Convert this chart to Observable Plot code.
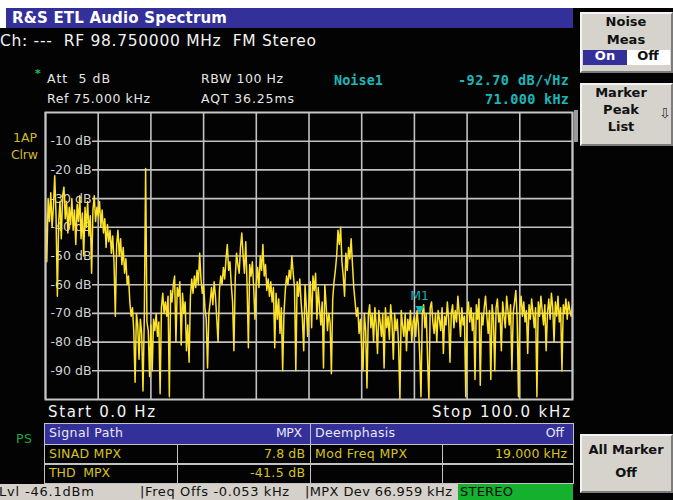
<!DOCTYPE html>
<html>
<head>
<meta charset="utf-8">
<script src="https://cdn.jsdelivr.net/npm/d3@7"></script>
<script src="https://cdn.jsdelivr.net/npm/@observablehq/plot@0.6"></script>
<style>
  html, body { margin: 0; padding: 0; background: #000; }
  #screen { position: relative; width: 673px; height: 500px; background: #030303; overflow: hidden; font-family: "DejaVu Sans", sans-serif; }
  #screen svg { position: absolute; left: 0; top: 0; }
  .bx { position: absolute; box-sizing: border-box; }
  .key { background: #d6d3cd; border-top: 2px solid #f4f4f4; border-left: 2px solid #f4f4f4; border-right: 2px solid #7c7c7c; border-bottom: 2px solid #7c7c7c; }
</style>
</head>
<body>
<div id="screen"></div>
<script>
// ---- chart data ----
const startKHz = 0;
const binKHz = 0.25;
const levelDb = [
  // 0 - 10 kHz
  -35, -52, -30, -38, -28, -40, -33, -22, -36, -64, -38, -31, -44, -29, -26, -37, -31, -42, -33, -39,
  -30, -41, -34, -46, -32, -38, -29, -44, -35, -50, -33, -40, -31, -43, -36, -56, -34, -29, -38, -33,
  // 10 - 20 kHz
  -36, -31, -40, -34, -42, -37, -47, -39, -45, -41, -49, -43, -52, -71, -46, -41, -50, -44, -53, -47,
  -56, -51, -60, -57, -66, -71, -68, -76, -94, -70, -74, -86, -72, -77, -97, -71, -19.5, -73, -76, -92,
  // 20 - 30 kHz
  -74, -90, -72, -76, -70, -78, -73, -98, -68, -63, -70, -66, -71, -64, -99, -62, -66, -60, -57, -80,
  -61, -64, -59, -81, -63, -70, -66, -83, -74, -87, -64, -58, -63, -57, -61, -55, -60, -49, -58, -63,
  // 30 - 40 kHz
  -60, -68, -72, -89, -70, -66, -61, -67, -59, -64, -72, -80, -62, -57, -60, -54, -58, -51, -46, -55,
  -52, -60, -66, -83, -58, -49, -53, -56, -47, -42, -50, -56, -45, -60, -82, -53, -57, -52, -61, -72,
  // 40 - 50 kHz
  -60, -54, -61, -50, -55, -46, -57, -53, -62, -58, -64, -59, -66, -61, -82, -63, -72, -65, -77, -68,
  -90, -70, -62, -57, -60, -55, -58, -50, -56, -61, -90, -59, -64, -58, -66, -72, -83, -60, -68, -78,
  // 50 - 60 kHz
  -66, -59, -75, -57, -62, -56, -72, -61, -68, -74, -66, -89, -60, -67, -76, -70, -73, -91, -65, -59,
  -55, -50, -41, -46, -40, -52, -57, -64, -49, -55, -47, -51, -44, -53, -61, -66, -71, -68, -77, -72,
  // 60 - 70 kHz
  -82, -90, -70, -76, -96, -71, -67, -75, -70, -80, -68, -74, -84, -69, -73, -78, -70, -89, -68, -75,
  -71, -79, -67, -73, -86, -70, -76, -72, -81, -100, -69, -74, -78, -70, -83, -72, -76, -69, -80, -73,
  // 70 - 80 kHz
  -71, -78, -69, -74, -84, -99, -70, -67, -75, -70, -86, -100, -68, -66, -73, -77, -70, -80, -69, -72,
  -76, -68, -84, -71, -74, -66, -72, -87, -70, -67, -75, -69, -73, -64, -70, -78, -68, -74, -71, -99,
  // 80 - 90 kHz
  -70, -66, -73, -68, -76, -70, -93, -67, -72, -65, -95, -70, -74, -68, -64, -71, -77, -69, -93, -67,
  -72, -90, -68, -65, -73, -70, -83, -66, -71, -75, -64, -69, -74, -67, -90, -70, -66, -62, -72, -99,
  // 90 - 100 kHz
  -68, -64, -71, -66, -73, -69, -84, -67, -72, -65, -70, -75, -68, -99, -66, -71, -64, -69, -74, -67,
  -83, -70, -65, -72, -63, -68, -80, -66, -71, -64, -73, -68, -90, -67, -70, -65, -72, -66, -69, -71,
  -67
];
const freqGridKHz = [0, 10, 20, 30, 40, 50, 60, 70, 80, 90, 100];
const levelTicksDb = [-10, -20, -30, -40, -50, -60, -70, -80, -90];
const markerFreqKHz = 71.0;
const markerLevelDb = -69.7;

const spectrum = levelDb.map((db, i) => ({ f: startKHz + i * binKHz, db }));
const marker = [{ f: markerFreqKHz, db: markerLevelDb }];

const screen = document.getElementById("screen");

// ---- chart ----
const plot = Plot.plot({
  width: 673,
  height: 500,
  marginLeft: 45,
  marginRight: 101,
  marginTop: 112,
  marginBottom: 101,
  style: { background: "transparent", fontFamily: "DejaVu Sans" },
  x: { domain: [0, 100], axis: null },
  y: { domain: [-100, 0], axis: null },
  marks: [
    Plot.ruleX(freqGridKHz, { stroke: "#c2c2c2", strokeWidth: 1.6 }),
    Plot.ruleY(levelTicksDb, { stroke: "#c2c2c2", strokeWidth: 1.6, insetLeft: 47 }),
    Plot.text(levelTicksDb, { y: d => d, text: d => `${d} dB`, frameAnchor: "left", dx: 46, textAnchor: "end", fill: "#d2d2d2", fontSize: 12.5 }),
    Plot.line(spectrum, { x: "f", y: "db", stroke: "#fde22a", strokeWidth: 1.5, clip: true }),
    Plot.frame({ stroke: "#c6c6c6", strokeWidth: 2 }),
    Plot.text(marker, { x: "f", y: "db", text: () => "▼", fill: "#18b4b8", lineAnchor: "bottom", fontSize: 11 }),
    Plot.text(marker, { x: "f", y: "db", text: () => "M1", fill: "#18a8ae", lineAnchor: "bottom", dy: -13, fontSize: 12.5 })
  ]
});
screen.appendChild(plot);

// ---- instrument frame (layout only) ----
function box(x, y, w, h, css) {
  const d = document.createElement("div");
  d.className = "bx";
  d.style.cssText += `left:${x}px;top:${y}px;width:${w}px;height:${h}px;${css}`;
  screen.appendChild(d);
  return d;
}
const ctx = document.createElement("canvas").getContext("2d");
function label(str, x, y, o = {}) {
  const size = o.size || 13, weight = o.weight || "normal", family = o.family || "DejaVu Sans";
  const font = `${weight} ${size}px "${family}"`;
  const d = document.createElement("div");
  d.textContent = str;
  let ls = 0;
  if (o.w) {
    ctx.font = font;
    const m = ctx.measureText(str).width;
    ls = (o.w - m) / Math.max(1, str.length - 1);
  }
  d.style.cssText = `position:absolute;top:${y - 10}px;height:20px;line-height:20px;font:${font};color:${o.color || "#f0f0f0"};white-space:pre;letter-spacing:${ls}px;`;
  if (o.anchor === "end") { d.style.right = (673 - x - ls) + "px"; }
  else if (o.anchor === "middle") { d.style.left = (x - 100) + "px"; d.style.width = "200px"; d.style.textAlign = "center"; }
  else d.style.left = x + "px";
  screen.appendChild(d);
}

// top strip and title bar
box(0, 0, 673, 8, "background:#fff");
box(0, 8, 6, 20, "background:#fff");
box(6, 8, 567, 20, "background:#34309a");
label("R&S ETL Audio Spectrum", 12, 18.5, { size: 15, weight: "bold", w: 215, color: "#fff" });
label("Ch: ---  RF 98.750000 MHz  FM Stereo", 0, 42, { size: 15.5, w: 316, color: "#f2f2f2" });

// settings
label("*", 35, 77, { size: 11, color: "#21c04a", weight: "bold" });
label("Att  5 dB", 47, 81, { size: 12.5, w: 63, color: "#e6e6e6" });
label("Ref 75.000 kHz", 47, 100.5, { size: 12.5, w: 103, color: "#e6e6e6" });
label("RBW 100 Hz", 201, 81, { size: 12.5, w: 82, color: "#e6e6e6" });
label("AQT 36.25ms", 201, 100.5, { size: 12.5, w: 93, color: "#e6e6e6" });
label("Noise1", 334, 82, { size: 13.5, weight: "bold", family: "DejaVu Sans Mono", w: 49, color: "#1cb6b8" });
label("-92.70 dB/√Hz", 569, 82, { size: 13.5, weight: "bold", family: "DejaVu Sans Mono", w: 111, anchor: "end", color: "#1cb6b8" });
label("71.000 kHz", 569, 101, { size: 13.5, weight: "bold", family: "DejaVu Sans Mono", w: 84, anchor: "end", color: "#1cb6b8" });
label("1AP", 13, 140, { size: 12.5, w: 24, color: "#d2ba2a" });
label("Clrw", 11, 157, { size: 12.5, w: 27, color: "#d2ba2a" });
label("PS", 16, 441, { size: 12.5, w: 16, color: "#1fa83a" });

// small scroll marker right of the diagram
box(574, 110, 4, 32, "background:#9a9a9a");

// start / stop
label("Start 0.0 Hz", 48, 412.5, { size: 15, w: 107, color: "#f4f4f4" });
label("Stop 100.0 kHz", 570, 412.5, { size: 15, w: 138, anchor: "end", color: "#f4f4f4" });

// result table
const line = "#c2c2c2";
box(44, 423, 530, 21, "background:#34309a");
box(44, 423, 530, 61, `border:1.5px solid ${line}`);
box(44, 443.5, 530, 1.5, `background:${line}`);
box(44, 463, 530, 1.5, `background:${line}`);
box(309.5, 423, 1.5, 61, `background:${line}`);
box(176.5, 444, 1.5, 40, `background:${line}`);
box(441.5, 444, 1.5, 40, `background:${line}`);
const yel = "#d9c31f";
label("Signal Path", 49, 434.5, { size: 12.5, w: 74, color: "#e8e8f2" });
label("MPX", 302, 434.5, { size: 12.5, w: 26, anchor: "end", color: "#e8e8f2" });
label("Deemphasis", 315, 434.5, { size: 12.5, w: 80, color: "#e8e8f2" });
label("Off", 564, 434.5, { size: 12.5, w: 18, anchor: "end", color: "#e8e8f2" });
label("SINAD MPX", 49, 456, { size: 12.5, w: 72, color: yel });
label("7.8 dB", 305, 456, { size: 12.5, w: 41, anchor: "end", color: yel });
label("Mod Freq MPX", 315, 456, { size: 12.5, w: 92, color: yel });
label("19.000 kHz", 567, 456, { size: 12.5, w: 72, anchor: "end", color: yel });
label("THD  MPX", 49, 475, { size: 12.5, w: 61, color: yel });
label("-41.5 dB", 305, 475, { size: 12.5, w: 55, anchor: "end", color: yel });

// status bar
box(0, 484, 458, 16, "background:#d5d1ca");
box(458, 484, 115, 16, "background:#14b02e");
label("Lvl -46.1dBm", -1, 494, { size: 13, w: 95, color: "#111" });
label("|Freq Offs -0.053 kHz", 140, 494, { size: 13, w: 149, color: "#111" });
label("|MPX Dev 66.959 kHz", 305, 494, { size: 13, w: 147, color: "#111" });
label("STEREO", 460, 494, { size: 13, w: 53, color: "#0a0a0a" });

// softkeys
box(580, 12, 93, 61, "").className = "bx key";
box(583, 50, 44, 15, "background:#34309a");
box(627, 50, 43, 15, "background:#fff");
label("Noise", 626, 24, { size: 13, weight: "bold", anchor: "middle", color: "#111" });
label("Meas", 626, 42, { size: 13, weight: "bold", anchor: "middle", color: "#111" });
label("On", 605, 58, { size: 13, weight: "bold", anchor: "middle", color: "#fff" });
label("Off", 648, 58, { size: 13, weight: "bold", anchor: "middle", color: "#111" });

box(580, 83, 93, 63, "").className = "bx key";
label("Marker", 621, 95, { size: 13, weight: "bold", anchor: "middle", color: "#111" });
label("Peak", 621, 112, { size: 13, weight: "bold", anchor: "middle", color: "#111" });
label("List", 621, 129, { size: 13, weight: "bold", anchor: "middle", color: "#111" });
label("⇩", 659, 115, { size: 14, color: "#333" });

box(580, 434, 93, 59, "").className = "bx key";
label("All Marker", 626, 452, { size: 13, weight: "bold", anchor: "middle", color: "#111" });
label("Off", 626, 475, { size: 13, weight: "bold", anchor: "middle", color: "#111" });
</script>
</body>
</html>
